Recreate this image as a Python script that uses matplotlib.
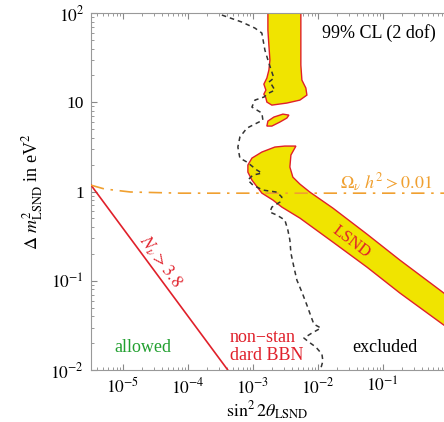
import numpy as np
import matplotlib
matplotlib.use("Agg")
import matplotlib.pyplot as plt
from matplotlib.ticker import LogLocator, NullFormatter

plt.rcParams['font.family'] = 'serif'
plt.rcParams['font.serif'] = ['Liberation Serif', 'DejaVu Serif']
plt.rcParams['mathtext.fontset'] = 'stix'

# datos (log10 de sin^2 2theta y de Delta m^2)
# contorno LSND, parte de arriba (columna)
lsnd_top_ls2 = [-2.769, -2.769, -2.754, -2.738, -2.754, -2.785, -2.831, -2.800, -2.831,
                -2.800, -2.785, -2.708, -2.477, -2.277, -2.169, -2.185, -2.246, -2.262,
                -2.262, -2.262]
lsnd_top_ldm = [2.146, 1.810, 1.641, 1.473, 1.361, 1.272, 1.204, 1.137, 1.092,
                1.048, 1.003, 0.969, 0.992, 1.025, 1.081, 1.160, 1.249, 1.417,
                1.697, 2.146]
# isla pequeña
lsnd_isl_ls2 = [-2.785, -2.769, -2.677, -2.538, -2.446, -2.477, -2.585, -2.708]
lsnd_isl_ldm = [0.734, 0.790, 0.835, 0.868, 0.857, 0.824, 0.779, 0.734]
# banda diagonal
lsnd_band_ls2 = [-2.338, -2.508, -2.662, -2.862, -3.015, -3.077, -3.077, -3.015, -2.862,
                 -2.692, -2.554, -2.277, -1.769, -1.246, -0.738, -0.062, 0.492, 0.492,
                 -0.062, -0.738, -1.246, -1.769, -2.123, -2.277, -2.385, -2.431, -2.415]
lsnd_band_ldm = [0.510, 0.510, 0.499, 0.443, 0.375, 0.297, 0.218, 0.129, -0.017,
                 -0.095, -0.174, -0.297, -0.566, -0.846, -1.137, -1.496, -1.787, -1.440,
                 -1.137, -0.768, -0.476, -0.185, -0.006, 0.084, 0.162, 0.275, 0.409]

# BBN no estandar (linea a trazos)
bbn_ls2 = [-3.477, -3.169, -2.969, -2.862, -2.815, -2.754, -2.708, -2.677, -2.754, -2.708,
           -2.662, -2.754, -2.831, -2.969, -3.015, -2.862, -2.846, -2.938, -3.092, -3.200,
           -3.231, -3.200, -3.092, -2.938, -2.862, -3.000, -3.077, -3.000, -2.846, -2.631,
           -2.554, -2.585, -2.708, -2.738, -2.631, -2.508, -2.462, -2.431, -2.415, -2.369,
           -2.323, -2.246, -2.169, -2.108, -2.062, -1.954, -2.092, -2.215, -2.138, -2.031,
           -1.938, -1.923, -1.954]
bbn_ldm = [1.978, 1.899, 1.832, 1.776, 1.585, 1.440, 1.339, 1.272, 1.227, 1.193,
           1.137, 1.104, 1.059, 1.025, 0.947, 0.880, 0.801, 0.768, 0.711, 0.611,
           0.499, 0.375, 0.331, 0.241, 0.207, 0.185, 0.129, 0.073, 0.017, -0.006,
           -0.062, -0.118, -0.174, -0.230, -0.263, -0.319, -0.431, -0.543, -0.689, -0.846,
           -0.992, -1.126, -1.272, -1.395, -1.485, -1.529, -1.585, -1.641, -1.686, -1.742,
           -1.821, -1.899, -1.978]

# N_nu > 3.8
nnu_s2 = [3.24e-6, 4.12e-4]
nnu_dm2 = [1.18, 0.01]

# Omega_nu h^2 > 0.01
omega_s2 = [3.24e-6, 5.2e-6, 1.3e-5, 7.6e-5, 1.0]
omega_dm2 = [1.18, 1.07, 0.99, 0.96, 0.96]

xticks = [1e-5, 1e-4, 1e-3, 1e-2, 1e-1]
xticklabels = ['$10^{-5}$', '$10^{-4}$', '$10^{-3}$', '$10^{-2}$', '$10^{-1}$']
yticks = [1e-2, 1e-1, 1, 10, 1e2]
yticklabels = ['$10^{-2}$', '$10^{-1}$', '1', '10', '$10^{2}$']

red = '#e0202a'
yellow = '#f0e400'
orange = '#f0a030'

fig = plt.figure(figsize=(4.44, 4.22), dpi=100)
ax = fig.add_axes([0.205, 0.123, 0.795, 0.846])
ax.set_xscale('log')
ax.set_yscale('log')

# LSND
for ls2, ldm in [(lsnd_top_ls2, lsnd_top_ldm), (lsnd_isl_ls2, lsnd_isl_ldm),
                 (lsnd_band_ls2, lsnd_band_ldm)]:
    ax.fill(10**np.array(ls2), 10**np.array(ldm), facecolor=yellow,
            edgecolor=red, linewidth=1.0, zorder=2)

ax.plot(10**np.array(bbn_ls2), 10**np.array(bbn_ldm), color='#333333', lw=1.1,
        linestyle=(0, (3, 2.5)), zorder=4)
ax.plot(nnu_s2, nnu_dm2, color=red, lw=1.2, zorder=3)
ax.plot(omega_s2, omega_dm2, color=orange, lw=1.2, linestyle=(0, (8, 4, 1.5, 4)), zorder=3)

ax.set_xlim(10**-5.49, 10**-0.06)
ax.set_ylim(1e-2, 1e2)

# textos
ax.text(0.654, 0.944, '99% CL (2 dof)', transform=ax.transAxes, fontsize=13,
        ha='left', va='center')
ax.text(0.147, 0.064, 'allowed', transform=ax.transAxes, fontsize=13,
        color='#22a030', ha='center', va='center')
ax.text(0.833, 0.064, 'excluded', transform=ax.transAxes, fontsize=13,
        ha='center', va='center')
ax.text(0.394, 0.066, 'non\u2212stan\ndard BBN', transform=ax.transAxes, fontsize=13,
        color=red, ha='left', va='center', linespacing=1.1)
ax.text(0.195, 0.305, r'$N_\nu > 3.8$', transform=ax.transAxes, fontsize=13,
        color=red, ha='center', va='center', rotation=-53.5, rotation_mode='anchor')
ax.text(0.737, 0.359, 'LSND', transform=ax.transAxes, fontsize=12,
        color=red, ha='center', va='center', rotation=-37, rotation_mode='anchor', zorder=5)
ax.text(0.836, 0.524, r'$\Omega_\nu\ h^2 > 0.01$', transform=ax.transAxes, fontsize=13,
        color=orange, ha='center', va='center')

ax.set_xlabel(r'$\sin^2 2\theta_{\rm LSND}$', fontsize=13, labelpad=2)
ax.set_ylabel(r'$\Delta\ m^2_{\rm LSND}$ in eV$^2$', fontsize=13, labelpad=4)

ax.set_xticks(xticks)
ax.set_xticklabels(xticklabels)
ax.set_yticks(yticks)
ax.set_yticklabels(yticklabels)
ax.xaxis.set_minor_locator(LogLocator(base=10, subs=np.arange(2, 10), numticks=20))
ax.yaxis.set_minor_locator(LogLocator(base=10, subs=np.arange(2, 10), numticks=20))
ax.xaxis.set_minor_formatter(NullFormatter())
ax.yaxis.set_minor_formatter(NullFormatter())
ax.tick_params(which='both', direction='in', top=True, right=False, color='#888888',
               labelsize=12.5, pad=5)
ax.tick_params(which='major', length=4, width=0.8)
ax.tick_params(which='minor', length=2, width=0.6)
for side in ['left', 'bottom', 'top']:
    ax.spines[side].set_color('#999999')
    ax.spines[side].set_linewidth(0.8)
ax.spines['right'].set_visible(False)

fig.savefig('out.png', dpi=100)
